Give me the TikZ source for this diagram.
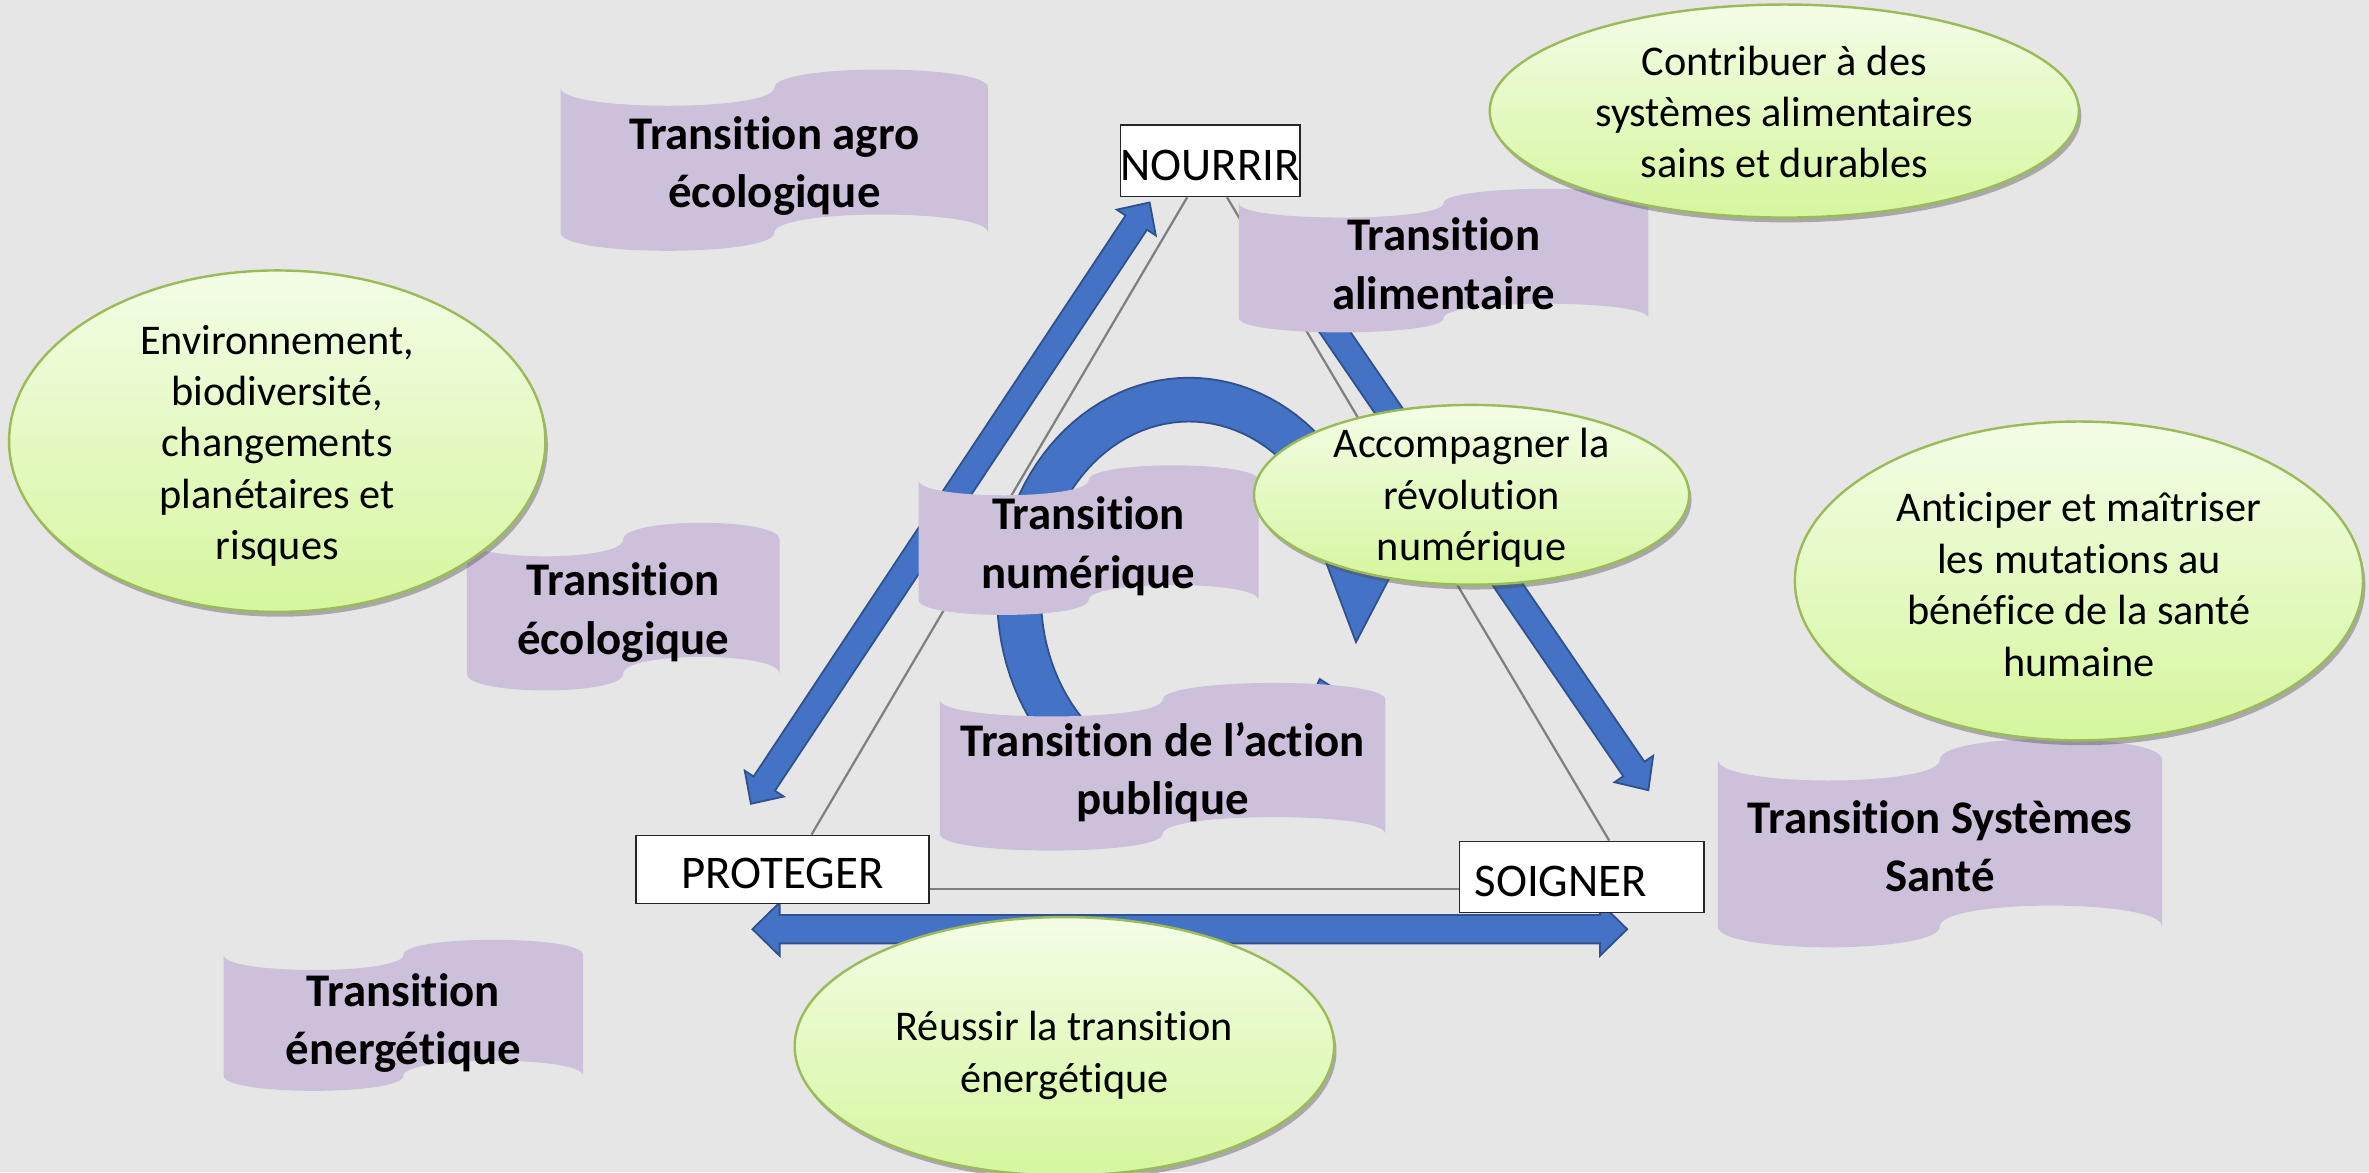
\documentclass[tikz,border=0pt]{standalone}
\usepackage{fontspec}
\setmainfont{Carlito}[Ligatures=NoCommon,RawFeature={-clig;-calt}]
\usetikzlibrary{calc,shadows,shapes.geometric}
\definecolor{bgc}{HTML}{E7E6E6}
\definecolor{blueA}{HTML}{4472C4}
\definecolor{blueB}{HTML}{2F528F}
\definecolor{lav}{HTML}{CCC0DA}
\definecolor{olv}{HTML}{9BBB59}
\definecolor{gtop}{RGB}{243,253,230}
\definecolor{gbot}{RGB}{214,246,158}
\definecolor{lineg}{HTML}{808080}
\tikzset{
  bubble/.style={ellipse, draw=olv, line width=0.8pt, top color=gtop, bottom color=gbot,
    inner sep=0pt,
    drop shadow={shadow xshift=0.8pt, shadow yshift=-1.6pt, opacity=0.4, fill=black!70}},
  bubbletext/.style={align=center, inner sep=0pt, font=\fontsize{14}{17}\selectfont},
  tapetext/.style={align=center, inner sep=0pt, font=\fontsize{15.5}{19.3}\selectfont\bfseries},
  verbbox/.style={rectangle, draw=black!85, line width=0.6pt, fill=white, inner sep=0pt,
    text height=12.8pt, text depth=0pt, font=\fontsize{15.5}{18}\selectfont},
  tri/.style={draw=lineg, line width=0.75pt},
  barrow/.style={fill=blueA, draw=blueB, line width=0.6pt, line join=miter},
}
% banner (punched tape) : name, x, y, w, h, text, text offset   (display px, y downwards)
\newcommand\tapebanner[7]{%
  \begin{scope}[shift={(#2,#3)},xscale=#4,yscale=#5]
    \fill[lav] (0,0.1) .. controls (0,0.2333) and (0.5,0.2333) .. (0.5,0.1)
      .. controls (0.5,-0.0333) and (1,-0.0333) .. (1,0.1) -- (1,0.9)
      .. controls (1,0.7667) and (0.5,0.7667) .. (0.5,0.9)
      .. controls (0.5,1.0333) and (0,1.0333) .. (0,0.9) -- cycle;
  \end{scope}
  \node[tapetext] (#1) at ({#2+#4/2},{#3+#5/2+#7}) {#6};}
% double block arrow : x, y (start tip), angle, length, shaft half, head half, head length
\newcommand\dblockarrow[7]{%
  \begin{scope}[shift={(#1,#2)},rotate=#3]
    \path[barrow] (0,0) -- (#7,#6) -- (#7,#5) -- ({#4-#7},#5) -- ({#4-#7},#6) -- (#4,0)
      -- ({#4-#7},-#6) -- ({#4-#7},-#5) -- (#7,-#5) -- (#7,-#6) -- cycle;
  \end{scope}}
\newcommand\sblockarrow[7]{%
  \begin{scope}[shift={(#1,#2)},rotate=#3]
    \path[barrow] (0,#5) -- ({#4-#7},#5) -- ({#4-#7},#6) -- (#4,0)
      -- ({#4-#7},-#6) -- ({#4-#7},-#5) -- (0,-#5) -- cycle;
  \end{scope}}
\begin{document}
\begin{tikzpicture}[x=0.5pt,y=-0.5pt]
\useasboundingbox (0,0) rectangle (1568,776);
\fill[bgc] (0,0) rectangle (1568,776);

% verb boxes (positions)
\node[verbbox, minimum width=59pt, minimum height=23.5pt] (nourrir) at (801,106.5) {NOURRIR};
\node[verbbox, minimum width=97pt, minimum height=22.5pt] (proteger) at (518,575.5) {PROTEGER};
\node[verbbox, minimum height=23.5pt, inner xsep=5pt, text width=71pt, align=left] (soigner) at (1047,580.5) {SOIGNER};

% triangle connectors
\draw[tri] ($(nourrir.south west)!0.373!(nourrir.south east)$) -- ($(proteger.north west)!0.598!(proteger.north east)$);
\draw[tri] ($(nourrir.south west)!0.593!(nourrir.south east)$) -- ($(soigner.north west)!0.611!(soigner.north east)$);
\coordinate (pb) at ($(proteger.south east)!0.22!(proteger.north east)$);
\draw[tri] (pb) -- (soigner.west |- pb);

% blue arrows
\dblockarrow{497}{532}{56.45}{477.6}{8.5}{15.5}{16}
\sblockarrow{870}{200}{-55.62}{391.4}{8.5}{15.5}{17}
\dblockarrow{498}{615}{0}{579}{9.4}{17.6}{18}

% circular arrow
\path[barrow] plot[domain=-29:-335, samples=100] ({787+127*cos(\x)},{395-145*sin(\x)})
  -- (947,330) -- (897.5,425) -- (867.5,345)
  -- plot[domain=-335:-28, samples=100] ({787+98*cos(\x)},{395-116*sin(\x)}) -- cycle;

% boxes on top
\node[verbbox, minimum width=59pt, minimum height=23.5pt] at (nourrir) {NOURRIR};
\node[verbbox, minimum width=97pt, minimum height=22.5pt] at (proteger) {PROTEGER};
\node[verbbox, minimum height=23.5pt, inner xsep=5pt, text width=71pt, align=left] at (soigner) {SOIGNER};

% banners
\tapebanner{agro}{371}{46}{283}{120}{Transition agro\\écologique}{4}
\tapebanner{alim}{820}{125}{271}{95}{Transition\\alimentaire}{2}
\tapebanner{ecol}{309}{346}{207}{111}{Transition\\écologique}{4}
\tapebanner{num}{608}{308}{225}{99}{Transition\\numérique}{4}
\tapebanner{action}{622}{452}{295}{111}{Transition de l’action\\publique}{3.5}
\tapebanner{sante}{1137}{489}{294}{138}{Transition Systèmes\\Santé}{2}
\tapebanner{energ}{148}{622}{238}{100}{Transition\\énergétique}{5}

% ellipses
\node[bubble, minimum width=195pt, minimum height=70.5pt] (contrib) at (1181,73.5) {};
\node[bubbletext] (contribt) at ([yshift=-0.3pt]contrib.center)
  {Contribuer à des\\systèmes alimentaires\\sains et durables};
\node[bubble, minimum width=177.5pt, minimum height=113pt] (envir) at (183.5,292) {};
\node[bubbletext] (envirt) at ([yshift=-1.5pt]envir.center)
  {Environnement,\\biodiversité,\\changements\\planétaires et\\risques};
\node[bubble, minimum width=144pt, minimum height=59.5pt] (accomp) at (974,327.5) {};
\node[bubbletext] (accompt) at ([yshift=-1pt]accomp.center)
  {Accompagner la\\révolution\\numérique};
\node[bubble, minimum width=188pt, minimum height=105.5pt] (antic) at (1376,384.5) {};
\node[bubbletext] (antict) at ([yshift=-1.2pt]antic.center)
  {Anticiper et maîtriser\\les mutations au\\bénéfice de la santé\\humaine};
\node[bubble, minimum width=178.5pt, minimum height=85.5pt] (reuss) at (704.5,692.5) {};
\node[bubbletext] (reusst) at ([yshift=-3pt]reuss.center)
  {Réussir la transition\\énergétique};
\end{tikzpicture}
\end{document}
